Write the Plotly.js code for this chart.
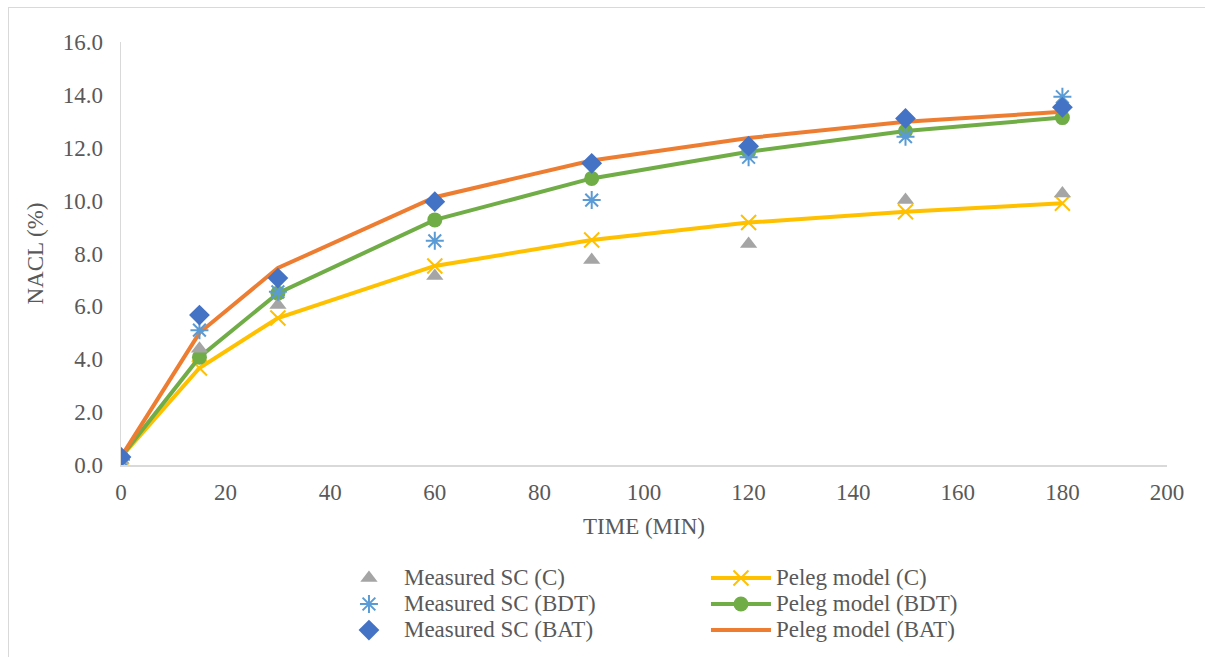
<!DOCTYPE html>
<html>
<head>
<meta charset="utf-8">
<script src="https://cdn.plot.ly/plotly-3.0.1.min.js"></script>
<style>
  html, body { margin: 0; padding: 0; background: #fff; }
  #frame { position: absolute; left: 8px; top: 7px; width: 1197px; height: 650px;
           border-top: 1px solid #d9d9d9; border-left: 1px solid #d9d9d9; }
  #chart { position: absolute; left: 0; top: 0; width: 1196px; height: 649px; }
</style>
</head>
<body>
<div id="frame"><div id="chart"></div></div>
<script>
// Time (min)
const time = [0, 15, 30, 60, 90, 120, 150, 180];

// Measured salt content (NaCl %)
const measuredC   = [0.2, 4.4, 6.05, 7.15, 7.75, 8.36, 10.02, 10.27];
const measuredBDT = [0.2, 5.1, 6.55, 8.48, 10.02, 11.64, 12.42, 13.93];
const measuredBAT = [0.3, 5.67, 7.07, 9.96, 11.41, 12.06, 13.11, 13.53];

// Peleg model predictions (NaCl %)
const pelegC   = [0.3, 3.67, 5.56, 7.53, 8.51, 9.17, 9.58, 9.9];
const pelegBDT = [0.3, 4.08, 6.5, 9.27, 10.84, 11.85, 12.63, 13.14];
const pelegBAT = [0.3, 5.0, 7.45, 10.13, 11.52, 12.37, 12.98, 13.36];

// Legend labels
const seriesNames = ['Measured SC (C)', 'Peleg model (C)', 'Measured SC (BDT)',
                     'Peleg model (BDT)', 'Measured SC (BAT)', 'Peleg model (BAT)'];

const col = {
  gray: '#a5a5a5', lblue: '#5b9bd5', blue: '#4472c4',
  yellow: '#ffc000', green: '#70ad47', orange: '#ed7d31'
};

const FAMILY = 'Liberation Serif, Times New Roman, serif';
const font = { family: FAMILY, color: '#595959', size: 23 };
// legend text shown at 23px while rows stay tight as in the reference
const lbl = s => '<span style="font-size:23px">' + s + '</span>';

const traces = [
  { x: time, y: measuredC, name: lbl(seriesNames[0]), type: 'scatter', mode: 'markers',
    marker: { symbol: 'triangle-up', size: 15, color: col.gray } },
  { x: time, y: pelegC, name: lbl(seriesNames[1]), type: 'scatter', mode: 'lines+markers',
    line: { color: col.yellow, width: 4 },
    marker: { symbol: 'x-thin-open', size: 15, line: { color: col.yellow, width: 2 }, color: col.yellow } },
  { x: time, y: measuredBDT, name: lbl(seriesNames[2]), type: 'scatter', mode: 'markers',
    marker: { symbol: 'asterisk-open', size: 15, line: { color: col.lblue, width: 2 }, color: col.lblue } },
  { x: time, y: pelegBDT, name: lbl(seriesNames[3]), type: 'scatter', mode: 'lines+markers',
    line: { color: col.green, width: 4 },
    marker: { symbol: 'circle', size: 15, color: col.green } },
  { x: time, y: measuredBAT, name: lbl(seriesNames[4]), type: 'scatter', mode: 'markers',
    marker: { symbol: 'diamond', size: 16, color: col.blue } },
  { x: time, y: pelegBAT, name: lbl(seriesNames[5]), type: 'scatter', mode: 'lines',
    line: { color: col.orange, width: 4 } }
];

// draw order: model lines first, measured markers on top
const drawOrder = [1, 3, 5, 0, 2, 4];

const layout = {
  width: 1196, height: 649,
  margin: { l: 112, r: 38, t: 34, b: 192, autoexpand: false },
  paper_bgcolor: '#ffffff', plot_bgcolor: '#ffffff',
  font: font,
  showlegend: true,
  xaxis: {
    range: [0, 200], dtick: 20, tick0: 0,
    showgrid: false, zeroline: false,
    showline: true, linecolor: '#d9d9d9', linewidth: 1.5,
    ticks: '', ticklabelstandoff: 6, automargin: false,
    tickfont: font,
    title: { text: 'TIME (MIN)', font: font, standoff: 14 }
  },
  yaxis: {
    range: [0, 16], dtick: 2, tick0: 0, tickformat: '.1f',
    showgrid: false, zeroline: false,
    showline: true, linecolor: '#d9d9d9', linewidth: 1.5,
    ticks: '', ticklabelstandoff: 12, automargin: false,
    tickfont: font,
    title: { text: 'NACL (%)', font: font, standoff: 12 }
  },
  legend: {
    orientation: 'h',
    x: 0.2036, xanchor: 'left',
    y: -0.2246, yanchor: 'top',
    itemwidth: 60,
    entrywidth: 297, entrywidthmode: 'pixels',
    font: { family: FAMILY, color: '#595959', size: 17.7 },
    traceorder: 'normal',
    bgcolor: 'rgba(0,0,0,0)'
  }
};

const ordered = drawOrder.map(i => Object.assign({ legendrank: i + 1 }, traces[i]));

Plotly.newPlot('chart', ordered, layout, { displayModeBar: false, staticPlot: true });
</script>
</body>
</html>
